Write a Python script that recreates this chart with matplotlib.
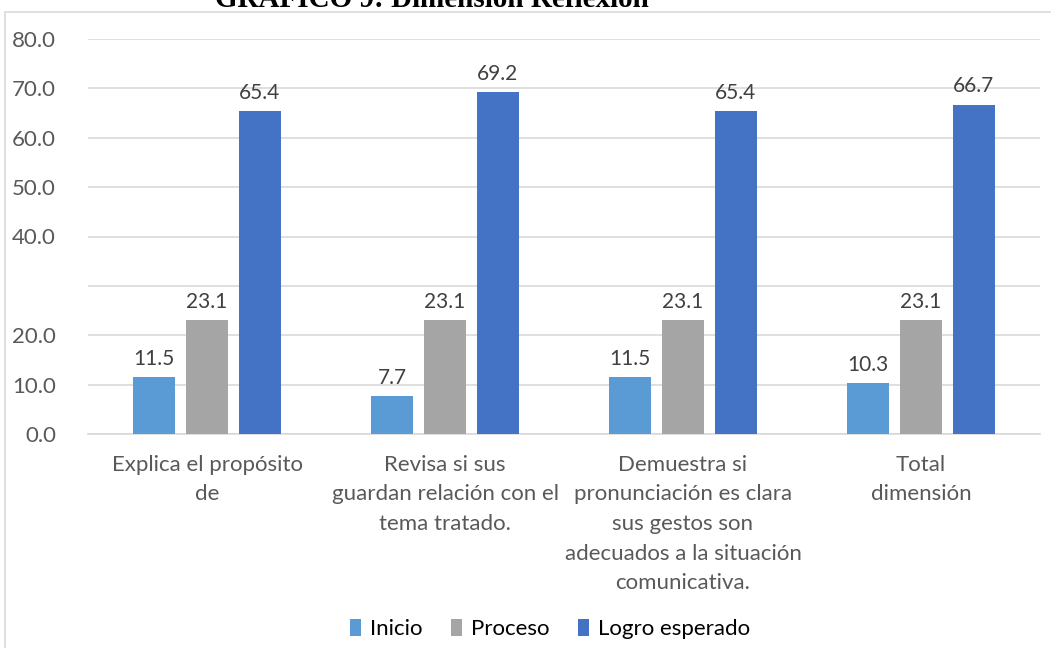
import matplotlib.pyplot as plt
from matplotlib.patches import Rectangle
import numpy as np

# data
categories = ['Explica el propósito\nde',
              'Revisa si sus\nguardan relación con el\ntema tratado.',
              'Demuestra si\npronunciación es clara\nsus gestos son\n'
              'adecuados a la situación\ncomunicativa.',
              'Total\ndimensión']
series_names = ['Inicio', 'Proceso', 'Logro esperado']
inicio = [11.5, 7.7, 11.5, 10.3]
proceso = [23.1, 23.1, 23.1, 23.1]
logro = [65.4, 69.2, 65.4, 66.7]
y_ticks = [0, 10, 20, 30, 40, 50, 60, 70, 80]

colors = ['#5B9BD5', '#A5A5A5', '#4472C4']
text_color = '#595959'
grid_color = '#D9D9D9'

plt.rcParams['font.family'] = ['Lato', 'DejaVu Sans']

fig = plt.figure(figsize=(10.51, 6.48), dpi=100)
ax = fig.add_axes([88 / 1051, 1 - 434 / 648, 952 / 1051, 395 / 648])

# outer chart frame
fig.patches.append(Rectangle((5 / 1051, -0.1), 1.2, 1.1 - 12 / 648,
                             transform=fig.transFigure, fill=False,
                             edgecolor=grid_color, linewidth=1.2))

x = np.arange(len(categories))
width = 0.177
step = 0.222
for i, (vals, name) in enumerate(zip([inicio, proceso, logro], series_names)):
    pos = x + (i - 1) * step
    ax.bar(pos, vals, width=width, color=colors[i], label=name, zorder=3)
    for p, v in zip(pos, vals):
        ax.annotate('%.1f' % v, (p, v), xytext=(0, 6), textcoords='offset points',
                    ha='center', va='bottom', fontsize=15, color='#404040')

ax.set_xlim(-0.5, len(categories) - 0.5)
ax.set_ylim(0, 80)
ax.set_yticks(y_ticks)
ax.set_yticklabels(['' if t == 30 else '%.1f' % t for t in y_ticks])
ax.set_xticks(x)
ax.set_xticklabels(categories, linespacing=1.6)
ax.tick_params(axis='both', length=0, labelsize=16, colors=text_color)
ax.tick_params(axis='x', pad=15)
ax.tick_params(axis='y', pad=23)
ax.grid(axis='y', color=grid_color, linewidth=1.2, zorder=0)
for s in ['top', 'right', 'left']:
    ax.spines[s].set_visible(False)
ax.spines['bottom'].set_color(grid_color)
ax.spines['bottom'].set_linewidth(1.2)

leg = fig.legend(loc='center', bbox_to_anchor=(550 / 1051, 1 - 629 / 648),
                 ncol=3, frameon=False, fontsize=16, handlelength=0.5,
                 handleheight=0.8, handletextpad=0.4, columnspacing=1.3)
for t in leg.get_texts():
    t.set_color('#000000')

fig.text(432 / 1051, 1 - 7 / 648, 'GRÁFICO 9: Dimensión Reflexión',
         ha='center', va='baseline', fontsize=21, fontweight='bold',
         family=['Liberation Serif', 'DejaVu Serif'])

fig.savefig('out.png', dpi=100)
